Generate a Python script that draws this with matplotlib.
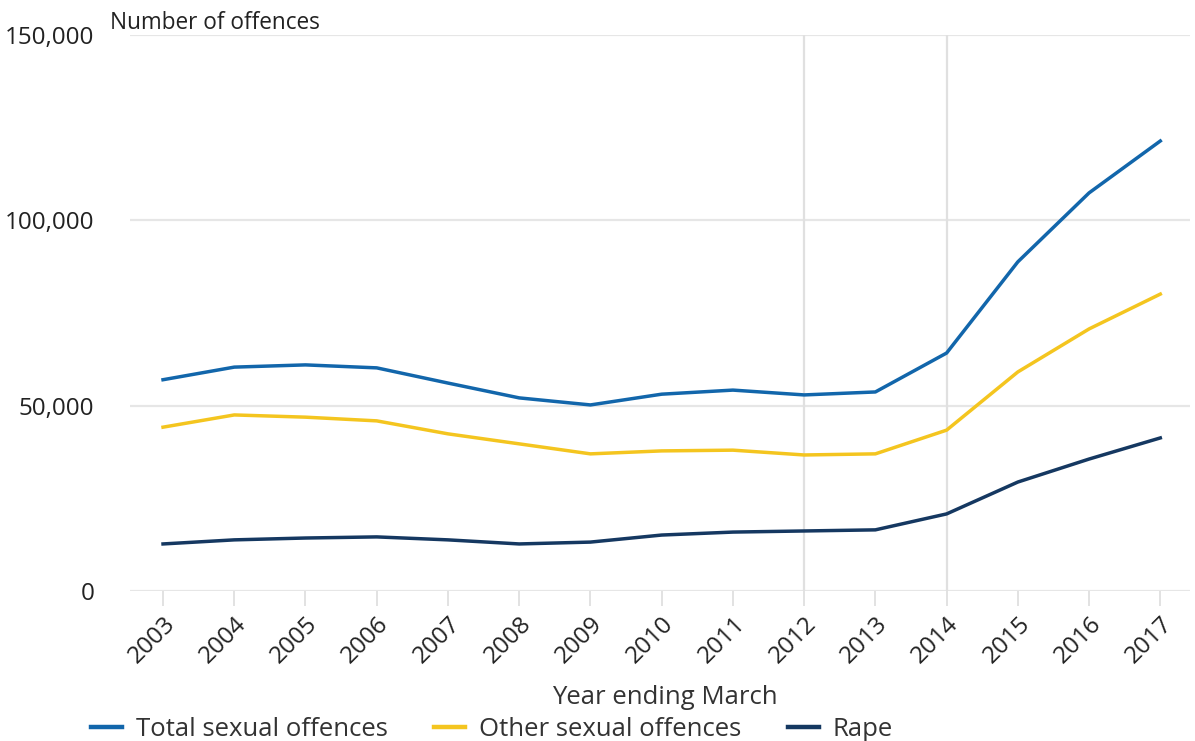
import numpy as np
import matplotlib.pyplot as plt
from matplotlib.ticker import FuncFormatter

plt.rcParams['font.family'] = ['Open Sans', 'DejaVu Sans']

years = [2003, 2004, 2005, 2006, 2007, 2008, 2009, 2010, 2011, 2012, 2013, 2014, 2015, 2016, 2017]
total = [57000, 60400, 61000, 60200, 56100, 52100, 50200, 53100, 54200, 52900, 53700, 64200, 88800, 107400, 121400]
other = [44200, 47500, 46900, 45900, 42400, 39700, 37000, 37800, 38000, 36700, 37000, 43400, 59100, 70700, 80100]
rape = [12700, 13800, 14300, 14600, 13800, 12700, 13200, 15100, 15900, 16200, 16500, 20800, 29400, 35600, 41300]
marked_years = [2012, 2014]

fig = plt.figure(figsize=(11.95, 7.41), dpi=100)
ax = fig.add_axes([0.109, 0.2024, 0.887, 0.7504])

for y in [0, 50000, 100000, 150000]:
    ax.axhline(y, color='#e6e6e6', lw=1.6, zorder=0)
for yr in marked_years:
    ax.axvline(yr, color='#e0e0e0', lw=1.6, zorder=0)

l1, = ax.plot(years, total, color='#1266ab', lw=2.5, label='Total sexual offences')
l2, = ax.plot(years, other, color='#f4c51f', lw=2.5, label='Other sexual offences')
l3, = ax.plot(years, rape, color='#153861', lw=2.5, label='Rape')

ax.set_xlim(2002.54, 2017.42)
ax.set_ylim(0, 150000)
ax.set_xticks(years)
ax.set_xticklabels([str(y) for y in years], rotation=45, ha='right', rotation_mode='anchor', fontsize=17.5, color='#222222')
ax.set_yticks([0, 50000, 100000, 150000])
ax.yaxis.set_major_formatter(FuncFormatter(lambda v, p: f'{int(v):,}'))
ax.tick_params(axis='y', length=0, labelsize=17.5, labelcolor='#222222', pad=26)
ax.tick_params(axis='x', length=11, width=1.2, color='#dddddd', pad=4)
for s in ax.spines.values():
    s.set_visible(False)

ax.text(-0.019, 1.0, 'Number of offences', transform=ax.transAxes, fontsize=16.3, color='#222222', va='bottom', ha='left')
fig.text(0.556, 0.05, 'Year ending March', fontsize=18.5, color='#333333', ha='center')

leg = fig.legend(handles=[l1, l2, l3], loc='lower left', bbox_to_anchor=(0.057, -0.032), ncol=3, frameon=False,
                 fontsize=18.5, handlelength=1.2, columnspacing=1.8, handletextpad=0.55, labelcolor='#333333')
for h in leg.get_lines():
    h.set_linewidth(3.2)

fig.savefig('out.png', dpi=100)
